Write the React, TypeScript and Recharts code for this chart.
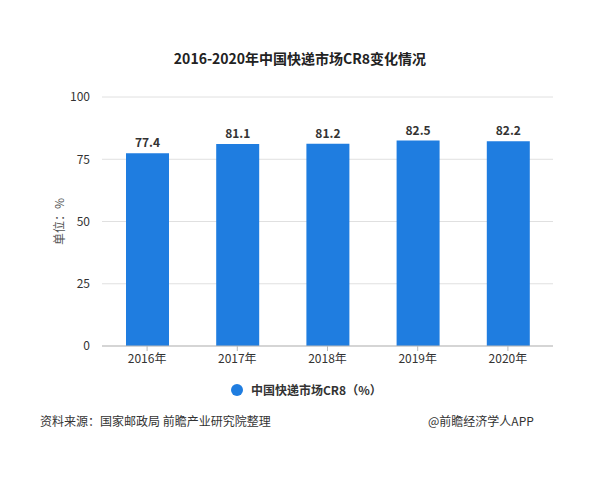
import React from "react";
import { BarChart, Bar, XAxis, YAxis, CartesianGrid, LabelList } from "recharts";

const years = ["2016年", "2017年", "2018年", "2019年", "2020年"];
const cr8 = [77.4, 81.1, 81.2, 82.5, 82.2];
const yTicks = [0, 25, 50, 75, 100];

const FONT = '"Noto Sans CJK SC", "Noto Sans", sans-serif';
const BAR_COLOR = "#1f7de0";

export default function App() {
  const data = years.map((year, i) => ({ year, value: cr8[i] }));

  return (
    <div
      style={{
        position: "absolute",
        left: 0,
        top: 0,
        width: 600,
        height: 480,
        background: "#fff",
        fontFamily: FONT,
        color: "#333",
      }}
    >
      <div
        style={{
          position: "absolute",
          top: 48,
          left: 0,
          width: 600,
          textAlign: "center",
          fontSize: 14,
          fontWeight: "bold",
          color: "#222",
        }}
      >
        2016-2020年中国快递市场CR8变化情况
      </div>

      <div style={{ position: "absolute", left: 0, top: 0 }}>
        <BarChart
          width={600}
          height={410}
          data={data}
          margin={{ top: 97, right: 47, bottom: 34, left: 0 }}
          style={{ fontFamily: FONT }}
        >
          <CartesianGrid vertical={false} stroke="#e0e0e0" />
          <XAxis
            dataKey="year"
            tick={{ fontSize: 12, fill: "#333" }}
            axisLine={{ stroke: "#bbb" }}
            tickLine={{ stroke: "#bbb" }}
            tickSize={5}
            tickMargin={3}
          />
          <YAxis
            width={102}
            domain={[0, 100]}
            ticks={yTicks}
            tick={{ fontSize: 12, fill: "#333" }}
            axisLine={false}
            tickLine={false}
            tickSize={0}
            tickMargin={12}
            label={{
              value: "单位：%",
              angle: -90,
              position: "insideLeft",
              offset: 60,
              style: { fontSize: 12, fill: "#555", textAnchor: "middle" },
            }}
          />
          <Bar dataKey="value" fill={BAR_COLOR} barSize={43} isAnimationActive={false}>
            <LabelList
              dataKey="value"
              position="top"
              offset={6}
              style={{ fontSize: 12, fontWeight: "bold", fill: "#333" }}
            />
          </Bar>
        </BarChart>
      </div>

      <div
        style={{
          position: "absolute",
          top: 381,
          left: 231,
          display: "flex",
          alignItems: "center",
          fontSize: 12,
          fontWeight: "bold",
          color: "#333",
        }}
      >
        <span
          style={{
            display: "inline-block",
            width: 12,
            height: 12,
            borderRadius: 6,
            background: BAR_COLOR,
            marginRight: 8,
          }}
        />
        中国快递市场CR8（%）
      </div>

      <div style={{ position: "absolute", top: 412, left: 40, fontSize: 12, color: "#333" }}>
        资料来源：国家邮政局 前瞻产业研究院整理
      </div>
      <div style={{ position: "absolute", top: 412, left: 428, fontSize: 12, color: "#333" }}>
        @前瞻经济学人APP
      </div>
    </div>
  );
}
